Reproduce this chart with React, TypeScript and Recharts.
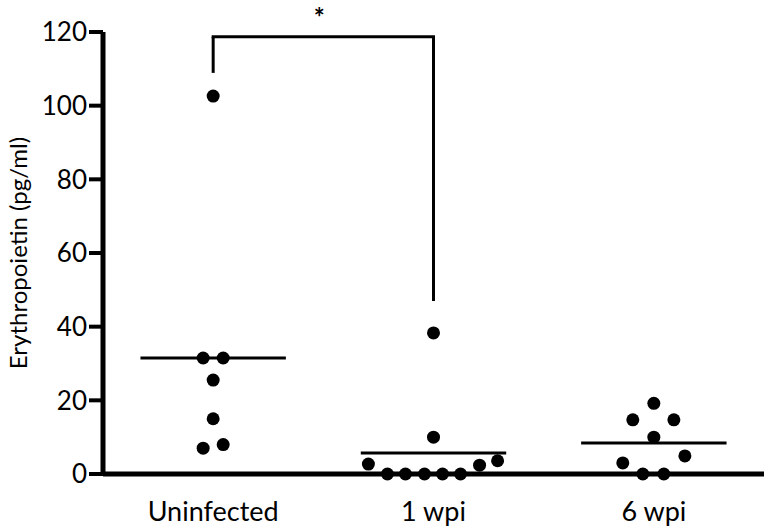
import React from 'react';
import {
  ScatterChart,
  Scatter,
  XAxis,
  YAxis,
  ReferenceLine,
  Label,
} from 'recharts';

const groups = ['Uninfected', '1 wpi', '6 wpi'];

// values per group, with a small horizontal jitter (in px) as drawn in the figure
const uninfectedValues = [102.6, 31.5, 31.5, 25.5, 15, 7, 8];
const uninfectedJitter = [0, -10, 10, 0, 0, -10, 10];
const wpi1Values = [38.3, 10, 2.7, 0, 0, 0, 0, 0, 2.4, 3.6];
const wpi1Jitter = [0, 0, -65, -46, -28, -9, 9, 27, 46, 64];
const wpi6Values = [19.2, 14.7, 14.7, 10, 4.9, 3, 0, 0];
const wpi6Jitter = [0, -21, 20, 0, 31, -31, -11, 10];

const medians = [31.5, 5.7, 8.4];
const yTicks = [0, 20, 40, 60, 80, 100, 120];

const PX_PER_GROUP = 220;

const toPoints = (g: number, values: number[], jitter: number[]) =>
  values.map((v, i) => ({ x: g + jitter[i] / PX_PER_GROUP, y: v }));

const allPoints = [
  ...toPoints(0, uninfectedValues, uninfectedJitter),
  ...toPoints(1, wpi1Values, wpi1Jitter),
  ...toPoints(2, wpi6Values, wpi6Jitter),
];

const font = 'Lato, "Open Sans", sans-serif';

const Dot = (p: any) => <circle cx={p.cx} cy={p.cy} r={6.5} fill="#000" />;

export default function App() {
  const half = 0.33;
  return (
    <div style={{ position: 'absolute', left: 0, top: 0, background: '#fff' }}>
      <ScatterChart
        width={765}
        height={530}
        margin={{ top: 32, right: 1, bottom: 0, left: 0 }}
      >
        <XAxis
          type="number"
          dataKey="x"
          domain={[-0.5, 2.5]}
          ticks={[0, 1, 2]}
          tickFormatter={(v: number) => groups[v]}
          height={56}
          tickLine={false}
          tickSize={0}
          tickMargin={28}
          axisLine={{ stroke: '#000', strokeWidth: 5 }}
          tick={{ fill: '#000', fontSize: 27, fontFamily: font }}
          allowDataOverflow
        />
        <YAxis
          type="number"
          dataKey="y"
          domain={[0, 120]}
          ticks={yTicks}
          width={103}
          tickSize={14}
          tickMargin={2}
          axisLine={{ stroke: '#000', strokeWidth: 5 }}
          tickLine={{ stroke: '#000', strokeWidth: 4 }}
          tick={{ fill: '#000', fontSize: 26, fontFamily: font }}
        >
          <Label
            value="Erythropoietin (pg/ml)"
            angle={-90}
            position="center"
            dx={-33}
            style={{ fill: '#000', fontSize: 24, fontFamily: font }}
          />
        </YAxis>
        {medians.map((m, i) => (
          <ReferenceLine
            key={i}
            segment={[
              { x: i - half, y: m },
              { x: i + half, y: m },
            ]}
            stroke="#000"
            strokeWidth={3}
          />
        ))}
        <ReferenceLine
          segment={[
            { x: 0, y: 108.9 },
            { x: 0, y: 118.7 },
          ]}
          stroke="#000"
          strokeWidth={3}
        />
        <ReferenceLine
          segment={[
            { x: 1, y: 47 },
            { x: 1, y: 118.7 },
          ]}
          stroke="#000"
          strokeWidth={3}
        />
        <ReferenceLine
          segment={[
            { x: 0, y: 118.7 },
            { x: 1, y: 118.7 },
          ]}
          stroke="#000"
          strokeWidth={3}
          strokeLinecap="square"
        >
          <Label
            value="*"
            position="top"
            offset={10}
            dx={-4}
            style={{ fill: '#000', fontSize: 26, fontWeight: 700, fontFamily: font }}
          />
        </ReferenceLine>
        <Scatter data={allPoints} shape={Dot} isAnimationActive={false} />
      </ScatterChart>
    </div>
  );
}
